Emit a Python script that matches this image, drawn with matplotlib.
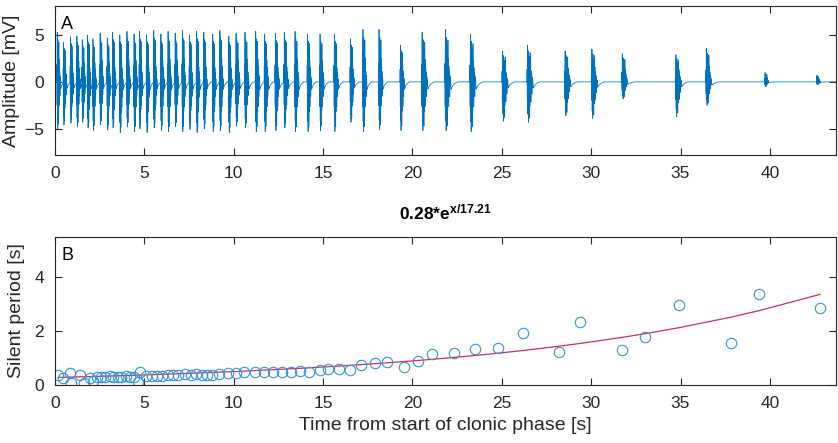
import numpy as np
import matplotlib
matplotlib.use("Agg")
from matplotlib import pyplot as plt

plt.rcParams['font.family'] = ['Liberation Sans', 'DejaVu Sans']
plt.rcParams['mathtext.fontset'] = 'custom'
plt.rcParams['mathtext.rm'] = 'Liberation Sans'
plt.rcParams['mathtext.bf'] = 'Liberation Sans:bold'

# --- panel A: burst onsets [s], positive / negative peak [mV], burst length [s]
burst_t = [0.1, 0.45, 0.84, 1.2, 1.5, 1.8, 2.1, 2.5, 2.9, 3.2, 3.6, 4.0, 4.4, 4.7,
           5.1, 5.5, 5.9, 6.3, 6.7, 7.1, 7.5, 7.9, 8.3, 8.8, 9.2, 9.7, 10.1, 10.6,
           11.2, 11.7, 12.3, 12.8, 13.4, 14.1, 14.8, 15.6, 16.5, 17.2, 18.1, 19.3,
           20.5, 21.8, 23.2, 25.0, 26.4, 28.5, 30.0, 31.7, 34.7, 36.4, 39.7, 42.6]
burst_up = [5.3, 4.2, 4.8, 4.9, 4.5, 5.0, 4.6, 5.2, 4.7, 5.3, 5.0, 5.4, 5.1, 5.4,
            5.0, 5.5, 5.1, 5.4, 5.2, 5.5, 5.0, 5.4, 5.3, 5.1, 5.5, 4.9, 5.2, 5.3,
            5.4, 5.1, 5.2, 5.3, 5.4, 5.1, 5.1, 5.1, 4.6, 5.6, 5.6, 3.9,
            5.3, 5.6, 5.1, 3.3, 3.9, 3.3, 3.5, 3.0, 2.9, 3.6, 1.0, 0.7]
burst_dn = [5.0, 4.6, 4.4, 4.8, 4.3, 4.9, 5.2, 4.6, 5.1, 4.9, 5.4, 4.8, 5.3, 5.0,
            5.4, 4.9, 5.2, 5.3, 4.8, 5.3, 5.1, 5.4, 5.0, 5.3, 5.2, 5.4, 4.7, 4.9,
            5.3, 5.3, 5.2, 4.9, 5.3, 5.3, 5.2, 5.3, 4.3, 5.3, 5.1, 5.2,
            5.2, 5.2, 5.3, 4.2, 4.3, 3.6, 3.9, 1.8, 3.7, 2.5, 0.5, 0.3]
burst_len = [0.22] * 26 + [0.26] * 14 + [0.36] * 10 + [0.25] * 2

# shape of one burst (fraction of burst length, fraction of peak)
shape_dt = [0, .04, .08, .12, .16, .2, .24, .28, .32, .36, .4, .44, .48, .52,
            .56, .6, .64, .68, .72, .76, .8, .84, .88, .92, .96, 1.0,
            1.1, 1.3, 1.6, 2.0]
shape_v = [0, .35, -.5, 1.0, -.8, .6, -1.0, .85, -.45, .7, -.9, .5, -.6, .8,
           -.35, .45, -.5, .3, -.25, .2, -.3, .12, -.1, .06, -.04, -.15,
           -.12, -.07, -.03, 0]

# --- panel B: silent period after each burst
sp_t = [0.17, 0.45, 0.84, 0.9, 1.4, 1.6, 1.95, 2.15, 2.37, 2.6, 2.82, 3.05, 3.27,
        3.5, 3.72, 3.95, 4.17, 4.4, 4.65, 4.75, 5.1, 5.4, 5.7, 6.0, 6.3, 6.6, 6.9,
        7.25, 7.6, 7.9, 8.2, 8.5, 8.8, 9.2, 9.7, 10.1, 10.6, 11.2, 11.7, 12.2,
        12.7, 13.2, 13.7, 14.2, 14.8, 15.3, 15.9, 16.5, 17.1, 17.9, 18.6, 19.5,
        20.3, 21.1, 22.3, 23.5, 24.8, 26.2, 28.2, 29.4, 31.7, 33.0, 34.9, 37.8,
        39.4, 42.8]
sp_v = [0.37, 0.25, 0.44, 0.07, 0.38, 0.08, 0.25, 0.15, 0.3, 0.3, 0.3, 0.32, 0.31,
        0.3, 0.3, 0.32, 0.3, 0.31, 0.1, 0.48, 0.34, 0.33, 0.35, 0.35, 0.37, 0.38,
        0.36, 0.42, 0.38, 0.4, 0.37, 0.38, 0.36, 0.42, 0.46, 0.44, 0.48, 0.48,
        0.5, 0.5, 0.48, 0.48, 0.52, 0.48, 0.56, 0.58, 0.59, 0.56, 0.74, 0.82,
        0.86, 0.68, 0.88, 1.15, 1.18, 1.33, 1.37, 1.93, 1.22, 2.33, 1.3, 1.78,
        2.96, 1.56, 3.4, 2.85]
fit_a = 0.28
fit_tau = 17.21

blue = '#0072BD'
dark = '#262626'

# build trace of panel A from the bursts
tx = [0.0]
ty = [0.0]
for t0, up, dn, w in zip(burst_t, burst_up, burst_dn, burst_len):
    for d, v in zip(shape_dt, shape_v):
        tx.append(t0 + d * w)
        ty.append(v * up if v > 0 else v * dn)
tx.append(43.7)
ty.append(0.0)

fig = plt.figure(figsize=(8.38, 4.43), dpi=100)
ax1 = fig.add_axes([55 / 838, (443 - 155) / 443, 781 / 838, 149 / 443])
ax2 = fig.add_axes([55 / 838, (443 - 385) / 443, 781 / 838, 148 / 443])

ax1.plot(tx, ty, color=blue, lw=0.55)
ax1.set_xlim(0, 43.7)
ax1.set_ylim(-7.8, 8.1)
ax1.set_yticks([-5, 0, 5])
ax1.set_ylabel('Amplitude [mV]', fontsize=14, color=dark, labelpad=3)
ax1.text(0.008, 0.93, 'A', transform=ax1.transAxes, fontsize=13, va='top')

fit_y = [fit_a * np.exp(x / fit_tau) for x in sp_t]
ax2.plot(sp_t, fit_y, color='#CC2E5A', lw=0.9)
ax2.plot(sp_t, sp_v, 'o', mfc='none', mec='#3593D6', mew=0.8, ms=7.5)
ax2.set_xlim(0, 43.7)
ax2.set_ylim(0, 5.5)
ax2.set_yticks([0, 2, 4])
ax2.set_ylabel('Silent period [s]', fontsize=14, color=dark, labelpad=7)
ax2.set_xlabel('Time from start of clonic phase [s]', fontsize=14, color=dark,
               labelpad=4)
ax2.set_title(r'$\mathbf{0.28{*}e^{x/17.21}}$', fontsize=12.5, pad=13)
ax2.text(0.008, 0.93, 'B', transform=ax2.transAxes, fontsize=13, va='top')

for ax in (ax1, ax2):
    ax.set_xticks([0, 5, 10, 15, 20, 25, 30, 35, 40])
    ax.tick_params(direction='in', top=True, right=True, length=5, width=0.8,
                   labelsize=12.5, colors=dark, pad=8)
    for s in ax.spines.values():
        s.set_color(dark)
        s.set_linewidth(0.8)

fig.savefig('out.png', dpi=100)
